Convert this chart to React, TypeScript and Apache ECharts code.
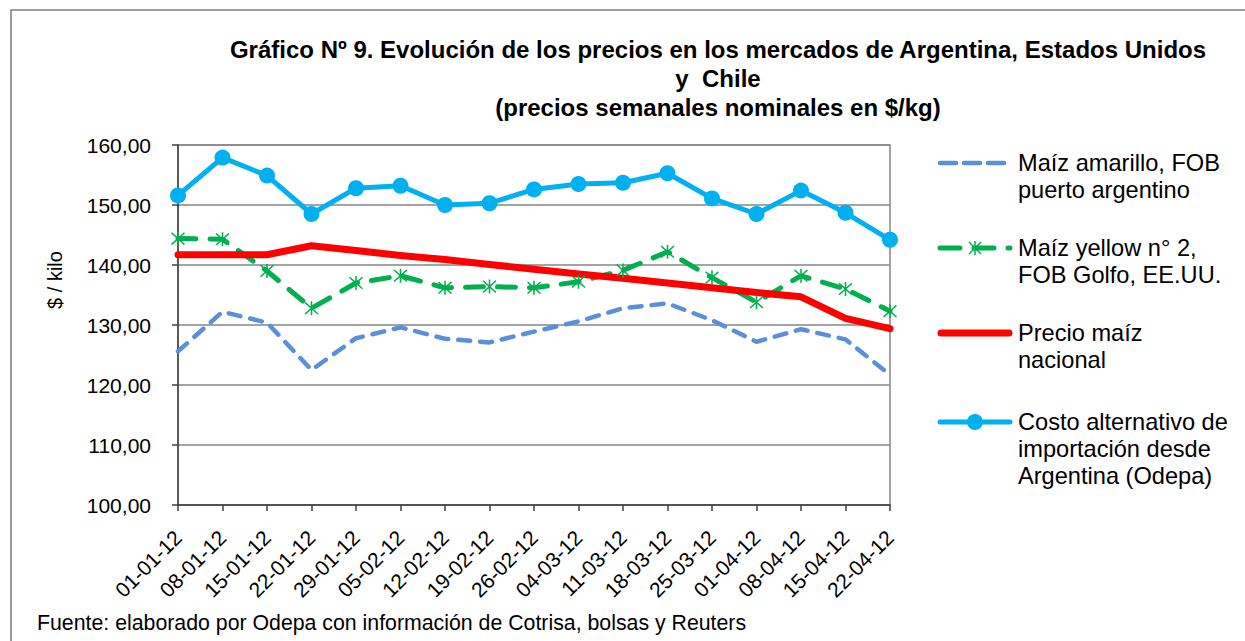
import React, { useEffect, useRef } from 'react';
import * as echarts from 'echarts';

const categories = ['01-01-12', '08-01-12', '15-01-12', '22-01-12', '29-01-12', '05-02-12', '12-02-12', '19-02-12', '26-02-12', '04-03-12', '11-03-12', '18-03-12', '25-03-12', '01-04-12', '08-04-12', '15-04-12', '22-04-12'];
const maizAmarilloFOB = [125.6, 132.2, 130.4, 122.5, 127.8, 129.6, 127.7, 127.1, 128.9, 130.6, 132.8, 133.6, 130.8, 127.2, 129.3, 127.6, 121.7];
const maizYellowGolfo = [144.4, 144.3, 139.0, 132.8, 137.0, 138.2, 136.2, 136.4, 136.2, 137.2, 139.1, 142.2, 137.9, 133.8, 138.2, 136.0, 132.3];
const precioNacional = [141.7, 141.7, 141.7, 143.2, 142.4, 141.6, 140.9, 140.1, 139.3, 138.5, 137.8, 137.0, 136.2, 135.4, 134.7, 131.1, 129.4];
const costoAlternativo = [151.6, 157.9, 154.9, 148.5, 152.8, 153.2, 150.0, 150.3, 152.6, 153.5, 153.7, 155.3, 151.1, 148.5, 152.4, 148.7, 144.2];
const seriesNames = [
  'Maíz amarillo, FOB\npuerto argentino',
  'Maíz yellow n° 2,\nFOB Golfo, EE.UU.',
  'Precio maíz\nnacional',
  'Costo alternativo de\nimportación desde\nArgentina (Odepa)',
];
const yMin = 100;
const yMax = 160;
const yInterval = 10;
const titleLines = [
  'Gráfico Nº 9. Evolución de los precios en los mercados de Argentina, Estados Unidos',
  'y  Chile',
  '(precios semanales nominales en $/kg)',
];
const yAxisTitle = '$ / kilo';
const sourceNote = 'Fuente: elaborado por Odepa con información de Cotrisa, bolsas y Reuters';

const FONT = 'Liberation Sans, Arial, sans-serif';
const C_AMARILLO = '#5B8FD8';
const C_YELLOW = '#00B050';
const C_NACIONAL = '#FF0000';
const C_COSTO = '#00B0F0';

const STAR =
  'path://M9,0 L11,0 L11,20 L9,20 Z M1,2.4 L2.4,1 L19,17.6 L17.6,19 Z M17.6,1 L19,2.4 L2.4,19 L1,17.6 Z';

export default function App() {
  const ref = useRef<HTMLDivElement>(null);
  useEffect(() => {
    if (!ref.current) return;
    const chart = echarts.init(ref.current, null, { renderer: 'svg' });
    const lx1 = 938;
    const lx2 = 1012;
    const tx = 1018;
    const legendY = [163, 248, 333, 422];
    const textEl = (i: number) => ({
      type: 'text',
      x: tx,
      y: legendY[i] - 13.5,
      style: {
        text: seriesNames[i],
        fill: '#000',
        font: `23.6px ${FONT}`,
        lineHeight: 27,
        verticalAlign: 'top',
        align: 'left',
      },
    });
    const option: any = {
      animation: false,
      backgroundColor: '#fff',
      title: {
        text: titleLines.join('\n'),
        left: 713,
        top: 30,
        textAlign: 'center',
        textStyle: {
          fontFamily: FONT,
          fontSize: 24,
          fontWeight: 'bold',
          color: '#000',
          lineHeight: 29,
        },
      },
      grid: {
        left: 178,
        right: 355,
        top: 145,
        bottom: 136,
        show: true,
        borderColor: '#868686',
        borderWidth: 1.5,
        containLabel: false,
      },
      xAxis: {
        type: 'category',
        data: categories,
        boundaryGap: false,
        axisLine: { show: true, lineStyle: { color: '#404040', width: 1.5 } },
        axisTick: { show: true, length: 6, lineStyle: { color: '#404040', width: 1.5 } },
        axisLabel: {
          rotate: 45,
          margin: 29,
          fontFamily: FONT,
          fontSize: 21,
          color: '#000',
          interval: 0,
        },
        splitLine: { show: false },
      },
      yAxis: {
        type: 'value',
        min: yMin,
        max: yMax,
        interval: yInterval,
        axisLine: { show: true, lineStyle: { color: '#404040', width: 1.5 } },
        axisTick: { show: true, length: 6, lineStyle: { color: '#404040', width: 1.5 } },
        axisLabel: {
          margin: 27,
          fontFamily: FONT,
          fontSize: 21,
          color: '#000',
          formatter: (v: number) => v.toFixed(2).replace('.', ','),
        },
        splitLine: { show: true, lineStyle: { color: '#868686', width: 1.5 } },
      },
      series: [
        {
          name: seriesNames[0],
          type: 'line',
          data: maizAmarilloFOB,
          showSymbol: false,
          symbol: 'none',
          clip: false,
          lineStyle: { color: C_AMARILLO, width: 4.5, type: [12, 10], cap: 'round' },
          itemStyle: { color: C_AMARILLO },
        },
        {
          name: seriesNames[1],
          type: 'line',
          data: maizYellowGolfo,
          symbol: STAR,
          symbolSize: 14,
          clip: false,
          lineStyle: { color: C_YELLOW, width: 5, type: [18, 14], cap: 'round' },
          itemStyle: { color: C_YELLOW },
        },
        {
          name: seriesNames[2],
          type: 'line',
          data: precioNacional,
          symbol: 'none',
          clip: false,
          lineStyle: { color: C_NACIONAL, width: 7, cap: 'round', join: 'round' },
          itemStyle: { color: C_NACIONAL },
        },
        {
          name: seriesNames[3],
          type: 'line',
          data: costoAlternativo,
          symbol: 'circle',
          symbolSize: 16,
          clip: false,
          lineStyle: { color: C_COSTO, width: 5, join: 'round' },
          itemStyle: { color: C_COSTO },
        },
      ],
      graphic: [
        {
          type: 'rect',
          shape: { x: 11, y: 10, width: 1400, height: 800 },
          style: { fill: 'none', stroke: '#7f7f7f', lineWidth: 1.5 },
          silent: true,
        },
        {
          type: 'text',
          x: 55,
          y: 280,
          rotation: Math.PI / 2,
          style: {
            text: yAxisTitle,
            font: `20px ${FONT}`,
            fill: '#000',
            align: 'center',
            verticalAlign: 'middle',
          },
        },
        {
          type: 'text',
          x: 37,
          y: 623,
          style: {
            text: sourceNote,
            font: `21.3px ${FONT}`,
            fill: '#000',
            align: 'left',
            verticalAlign: 'middle',
          },
        },
        {
          type: 'line',
          shape: { x1: lx1 + 2, y1: legendY[0], x2: lx2 - 2, y2: legendY[0] },
          style: { stroke: C_AMARILLO, lineWidth: 4.5, lineDash: [16, 8], lineCap: 'round' },
        },
        textEl(0),
        {
          type: 'line',
          shape: { x1: lx1 + 2, y1: legendY[1], x2: lx2 - 2, y2: legendY[1] },
          style: { stroke: C_YELLOW, lineWidth: 5, lineDash: [20, 14], lineCap: 'round' },
        },
        {
          type: 'line',
          shape: { x1: 975, y1: legendY[1] - 7, x2: 975, y2: legendY[1] + 7 },
          style: { stroke: C_YELLOW, lineWidth: 1.5 },
        },
        {
          type: 'line',
          shape: { x1: 969, y1: legendY[1] - 6, x2: 981, y2: legendY[1] + 6 },
          style: { stroke: C_YELLOW, lineWidth: 1.5 },
        },
        {
          type: 'line',
          shape: { x1: 981, y1: legendY[1] - 6, x2: 969, y2: legendY[1] + 6 },
          style: { stroke: C_YELLOW, lineWidth: 1.5 },
        },
        textEl(1),
        {
          type: 'line',
          shape: { x1: lx1 + 3, y1: legendY[2], x2: lx2 - 3, y2: legendY[2] },
          style: { stroke: C_NACIONAL, lineWidth: 7, lineCap: 'round' },
        },
        textEl(2),
        {
          type: 'line',
          shape: { x1: lx1 + 2, y1: legendY[3], x2: lx2 - 2, y2: legendY[3] },
          style: { stroke: C_COSTO, lineWidth: 5, lineCap: 'round' },
        },
        {
          type: 'circle',
          shape: { cx: 975, cy: legendY[3], r: 8 },
          style: { fill: C_COSTO },
        },
        textEl(3),
      ],
    };
    chart.setOption(option);
    return () => chart.dispose();
  }, []);
  return (
    <div
      ref={ref}
      style={{ position: 'fixed', left: 0, top: 0, width: 1245, height: 641, background: '#fff' }}
    />
  );
}
